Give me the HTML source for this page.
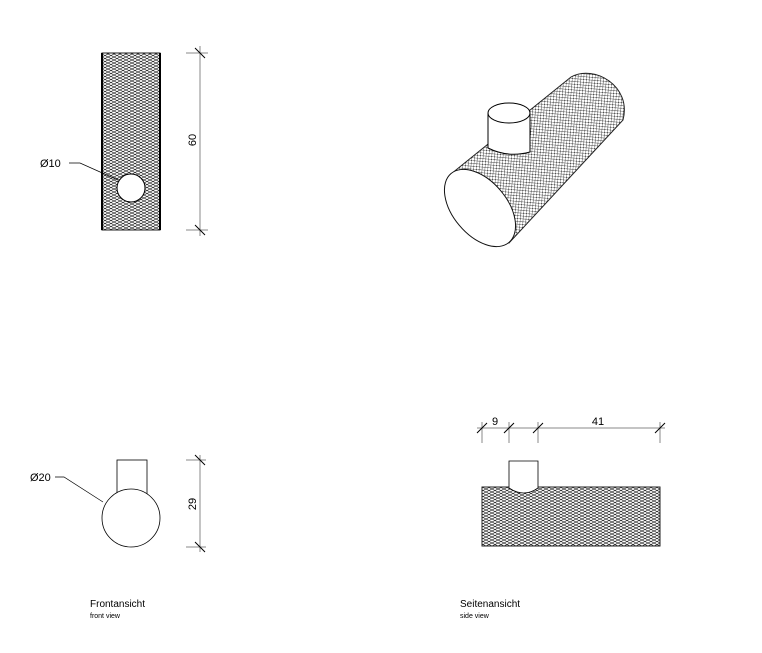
<!DOCTYPE html>
<html><head><style>
html,body{margin:0;padding:0;background:#fff;}
svg{display:block;font-family:"Liberation Sans",sans-serif;}
</style></head><body>
<svg width="762" height="653" viewBox="0 0 762 653" xmlns="http://www.w3.org/2000/svg">
<defs>
<pattern id="h" width="6" height="3" patternUnits="userSpaceOnUse">
<rect width="6" height="3" fill="#fff"/>
<path d="M0 0L6 3M0 3L6 0" stroke="#222" stroke-width="0.6"/>
</pattern>
<pattern id="h2" width="4" height="4" patternUnits="userSpaceOnUse" patternTransform="rotate(-40)">
<rect width="4" height="4" fill="#fff"/>
<path d="M0 0L4 4M0 4L4 0" stroke="#222" stroke-width="0.5"/>
</pattern>
</defs>
<g stroke="#000" fill="none" stroke-width="1">
<rect x="102" y="53" width="58" height="177" fill="url(#h)" stroke="#222"/>
<line x1="102" y1="53" x2="102" y2="230" stroke-width="2"/>
<line x1="160" y1="53" x2="160" y2="230" stroke-width="2"/>
<circle cx="131" cy="188" r="14" fill="#fff"/>
<polyline points="69,163 80,163 118,180" stroke-width="0.7"/>
<line x1="200" y1="46" x2="200" y2="236" stroke="#888"/>
<line x1="186" y1="53" x2="208" y2="53" stroke="#888"/>
<line x1="186" y1="230" x2="208" y2="230" stroke="#888"/>
<line x1="195" y1="48" x2="205" y2="58"/>
<line x1="195" y1="225" x2="205" y2="235"/>

<path d="M451 174 L571 77 C594 64, 632 86, 623 120 L509 243 Z" fill="url(#h2)" stroke="#222"/>
<ellipse cx="480" cy="208" rx="27" ry="45" transform="rotate(-40 480 208)" fill="#fff" stroke="#111"/>
<path d="M488 113 L488 148 Q508 158 530 152 L530 113" fill="#fff"/>
<ellipse cx="509" cy="113" rx="21" ry="10" fill="#fff"/>

<rect x="117" y="460" width="30" height="40" fill="#fff" stroke-width="0.8"/>
<circle cx="131" cy="518" r="29" fill="#fff" stroke-width="0.8"/>
<polyline points="55,477 64,477 103,502" stroke-width="0.7"/>
<line x1="200" y1="455" x2="200" y2="552" stroke="#888"/>
<line x1="186" y1="460" x2="206" y2="460" stroke="#888"/>
<line x1="186" y1="547" x2="206" y2="547" stroke="#888"/>
<line x1="195" y1="455" x2="205" y2="465"/>
<line x1="195" y1="542" x2="205" y2="552"/>

<rect x="482" y="487" width="178" height="59" fill="url(#h)" stroke="#222"/>
<path d="M509 488 L509 461 L538 461 L538 488 Q524 498 509 488 Z" fill="#fff" stroke-width="0.8"/>
<line x1="477" y1="428" x2="665" y2="428" stroke="#888"/>
<line x1="482" y1="422" x2="482" y2="443" stroke="#888"/>
<line x1="509" y1="422" x2="509" y2="443" stroke="#888"/>
<line x1="538" y1="422" x2="538" y2="443" stroke="#888"/>
<line x1="660" y1="422" x2="660" y2="443" stroke="#888"/>
<line x1="477" y1="433" x2="487" y2="423"/>
<line x1="504" y1="433" x2="514" y2="423"/>
<line x1="533" y1="433" x2="543" y2="423"/>
<line x1="655" y1="433" x2="665" y2="423"/>
</g>
<g fill="#000" font-size="11">
<text x="40" y="167">Ø10</text>
<text x="30" y="481">Ø20</text>
<text x="200" y="140" transform="rotate(-90 200 140)" text-anchor="middle" dy="-4">60</text>
<text x="200" y="504" transform="rotate(-90 200 504)" text-anchor="middle" dy="-4">29</text>
<text x="495" y="425" text-anchor="middle">9</text>
<text x="598" y="425" text-anchor="middle">41</text>
<text x="90" y="607" font-size="10">Frontansicht</text>
<text x="90" y="618" font-size="7">front view</text>
<text x="460" y="607" font-size="10">Seitenansicht</text>
<text x="460" y="618" font-size="7">side view</text>
</g>
</svg>
</body></html>
